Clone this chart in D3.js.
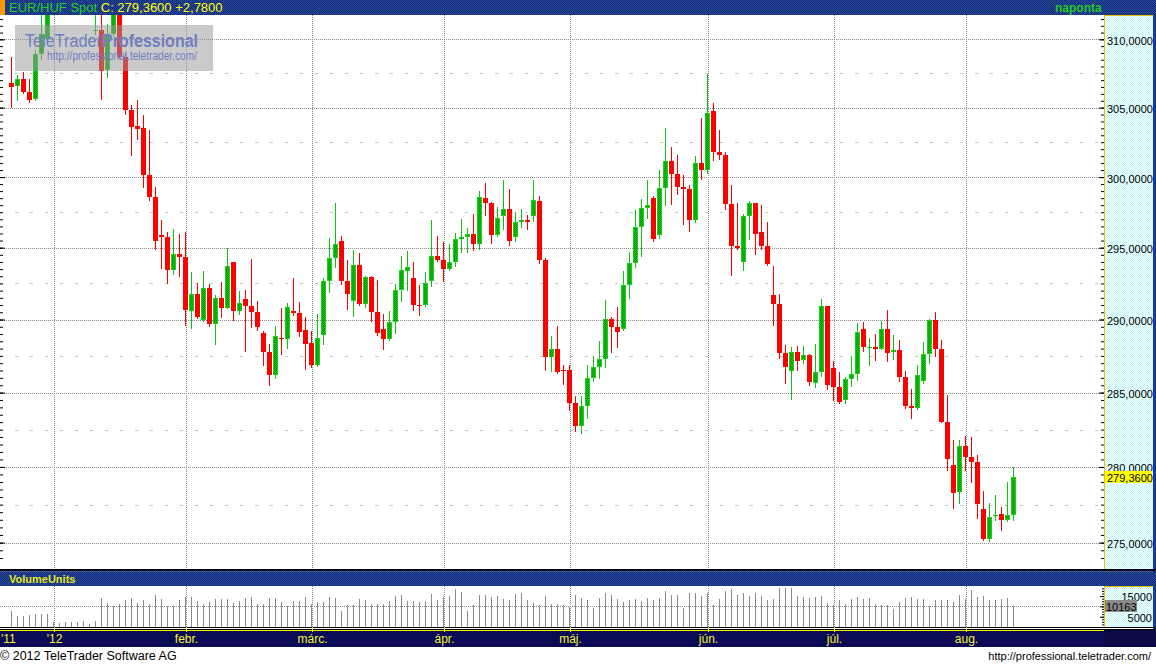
<!DOCTYPE html>
<html><head><meta charset="utf-8">
<script src="https://cdn.jsdelivr.net/npm/d3@7"></script>
<style>
html,body{margin:0;padding:0;background:#fff;overflow:hidden}
svg{display:block}
text{font-family:"Liberation Sans",Arial,sans-serif}
</style>
</head><body>
<svg id="c" width="1156" height="664"></svg>
<script>
// ---------- DATA ----------
const startDate = "2011-12-22", endDate = "2012-08-13";
const open = [
306.82,306.60,307.08,306.14,305.60,308.94,310.04,313.5,315.2,313.4,318.0,319.8,
317.9,315.8,310.61,310.67,307.72,310.41,313.0,308.70,304.83,303.69,303.53,300.15,
298.60,295.89,295.75,293.44,294.56,294.35,290.61,291.77,289.97,292.19,289.69,291.49,
290.82,294.00,290.61,291.42,290.96,290.52,289.07,287.77,286.20,288.73,288.66,290.61,
290.45,289.28,288.39,286.88,288.94,292.68,294.28,295.47,292.68,291.29,293.79,291.08,
292.95,290.52,289.35,288.66,289.83,292.05,293.37,292.88,291.03,291.01,292.70,294.42,
294.14,293.51,294.00,295.61,295.75,295.97,295.26,298.51,298.16,295.89,297.23,297.73,
295.75,296.81,296.95,297.23,298.30,294.14,287.43,287.97,286.54,286.54,284.30,282.74,
284.09,286.00,286.74,287.29,290.03,289.48,289.35,292.40,293.93,296.46,297.80,298.51,
295.89,299.22,301.15,300.22,299.30,299.15,296.95,301.01,300.51,304.75,301.80,301.58,
298.08,295.12,294.00,297.23,298.16,296.11,295.12,291.70,291.08,287.70,286.47,287.77,
287.22,287.56,285.65,286.40,290.94,286.68,285.38,284.50,285.93,286.27,289.35,288.04,
288.11,287.97,289.35,287.77,287.91,286.06,284.09,283.96,285.79,287.63,289.97,287.97,
283.01,280.13,278.34,281.40,280.67,280.33,277.22,275.24,276.76,276.89,276.49,276.82];
const high = [
308.72,307.38,307.62,307.08,309.21,312.5,314.2,316.0,316.5,318.6,324.0,321.5,
318.5,316.4,312.3,312.4,311.15,313.4,313.6,308.99,305.19,305.55,304.46,303.38,
299.32,296.95,296.13,296.32,295.99,296.13,293.30,292.51,293.39,292.47,291.70,292.63,
294.98,294.02,291.98,292.05,294.21,291.29,289.21,288.32,289.55,290.82,291.15,292.91,
291.22,290.17,289.21,290.40,292.91,295.70,298.18,295.85,294.16,294.86,294.63,293.02,
293.02,292.74,290.38,290.59,292.47,294.42,294.77,294.00,292.40,293.30,296.95,295.82,
295.40,295.26,296.04,297.02,296.39,297.37,299.01,299.58,298.23,297.87,299.79,299.15,
297.51,297.73,297.30,299.79,298.65,294.28,288.87,289.55,286.88,286.88,284.77,284.77,
286.88,287.49,288.52,291.35,290.17,290.87,293.37,294.70,297.66,298.44,299.79,298.65,
300.51,303.53,302.16,301.58,300.15,299.44,301.51,304.25,307.45,305.33,303.38,301.80,
299.44,298.16,297.37,298.30,298.17,298.01,296.81,293.72,291.77,288.25,288.11,288.18,
288.18,287.63,288.32,291.42,290.95,287.15,286.40,286.06,287.49,289.76,289.83,288.73,
289.00,289.90,290.66,288.94,288.59,286.47,285.25,286.88,288.46,290.03,290.52,288.59,
284.84,281.81,281.81,282.07,282.01,280.80,278.41,277.61,278.14,277.35,279.01,280.00];
const low = [
305.07,305.55,306.09,305.41,305.52,308.57,309.9,312.6,312.4,313.0,317.2,316.8,
314.6,312.0,310.41,305.65,307.23,310.32,308.63,304.56,301.58,302.73,299.32,298.37,
294.91,293.56,292.56,293.16,293.02,289.62,289.44,290.08,289.90,289.55,288.32,290.17,
290.80,289.97,290.38,287.86,289.51,289.28,286.88,285.52,286.02,287.63,288.04,290.31,
288.87,286.61,286.74,286.81,288.32,291.91,293.65,292.47,290.73,290.24,291.01,290.87,
289.90,288.94,287.97,288.59,289.07,291.29,292.05,290.66,290.31,290.94,292.33,294.07,
292.70,293.44,293.72,294.70,294.70,294.84,294.91,297.30,295.33,295.82,296.32,295.19,
295.47,296.46,296.32,296.88,293.93,286.54,286.47,286.34,285.59,283.82,282.41,282.27,
283.28,285.79,286.00,286.74,287.77,288.11,289.28,291.49,293.65,294.42,297.09,295.47,
295.68,298.01,298.08,298.80,296.67,296.18,296.81,299.86,300.29,301.23,301.30,297.73,
293.09,294.91,293.44,295.61,294.56,294.91,293.79,289.62,287.36,285.65,284.57,286.54,
287.02,285.52,285.38,286.13,285.25,284.50,284.30,284.30,285.45,285.86,287.84,286.88,
287.22,287.96,287.15,287.29,285.79,283.96,283.28,283.89,285.65,287.02,287.49,283.00,
279.80,277.28,277.61,279.80,279.01,276.62,275.18,275.11,276.49,275.84,276.43,276.49];
const close = [
306.52,307.06,306.14,305.55,308.94,310.36,313.5,315.2,313.4,318.0,319.8,317.9,
315.8,312.4,310.69,307.67,310.41,312.8,308.70,304.85,303.62,303.45,300.15,298.60,
295.47,295.77,293.44,294.56,294.35,290.66,291.77,290.20,292.19,289.69,291.49,290.82,
293.72,290.61,291.15,290.96,290.54,289.51,287.79,286.20,288.87,288.66,290.87,290.45,
289.14,288.32,286.88,288.73,292.68,294.28,295.26,292.68,291.77,293.79,291.08,292.95,
290.52,289.07,288.66,289.83,292.05,293.44,293.65,291.01,290.94,292.53,294.42,294.14,
293.51,294.00,295.61,295.75,295.97,295.26,298.58,298.16,295.89,297.09,297.73,295.47,
296.81,296.95,296.81,298.37,294.14,287.43,287.97,286.40,286.47,284.30,282.74,284.09,
286.00,286.74,287.29,290.03,289.48,289.14,292.40,293.93,296.46,297.80,298.01,295.61,
299.22,301.15,300.22,299.30,299.15,296.95,301.01,300.51,304.61,301.80,301.58,298.08,
295.12,294.98,297.23,298.16,295.97,295.12,293.86,291.08,287.70,286.74,287.77,287.15,
287.56,285.72,286.40,290.94,285.52,285.38,284.36,285.93,286.27,289.14,288.11,288.11,
287.97,289.35,287.70,287.91,286.06,284.09,283.96,286.20,287.63,289.97,287.97,283.01,
280.54,278.28,281.40,280.67,280.33,277.55,275.24,276.69,276.82,276.49,276.82,279.36];
const volume = [
7900,5500,5500,5800,6300,6300,6300,2300,1800,2600,2600,2600,
2900,1600,2900,14200,11800,10300,11300,13000,14100,11800,13300,11300,
15500,13700,10200,10200,13300,14600,14400,12800,11300,12300,13600,13400,
13400,11800,12600,13900,14700,11300,11200,13900,14100,12300,10000,12600,
12800,14400,11300,12300,12300,14600,13900,7900,10700,10700,13600,13300,
11000,11000,11300,12800,15200,15500,12600,12600,12100,12600,16000,13100,
14600,15000,18400,17100,7800,10500,15500,15500,14600,15000,13600,13100,
16000,16500,13100,11600,10500,15000,11200,11200,10700,9700,15500,14100,
13300,9400,14100,16500,15500,13700,12300,13300,13700,12600,14200,13300,
14100,17600,15500,15500,9400,16500,16500,15000,16500,10700,13600,17500,
18400,15500,16500,15000,16500,15000,13300,13700,18800,18900,18900,15000,
14600,14100,14600,15000,11600,10700,13100,11200,13600,14600,13600,14100,
11200,10700,10700,8700,12100,14100,14600,13600,13600,10200,13100,13100,
13100,12300,15400,13600,18000,14700,15000,13100,13100,13700,14100,10163];
const priceMajorTicks = [275,280,285,290,295,300,305,310];
const priceMidTicks = [277.5,282.5,287.5,292.5,297.5,302.5,307.5];
const volumeLabelTicks = [5000,15000];
const monthLabels = ["'12","febr.","márc.","ápr.","máj.","jún.","júl.","aug."]; // Jan..Aug 2012
const firstYearLabel = "'11";
const instrument = "EUR/HUF Spot";
const lastClose = 279.36, lastChange = 2.78, lastVolume = 10163;
const periodLabel = "naponta";
const volumeTitle = "VolumeUnits";

// ---------- SETUP ----------
const svg = d3.select("#c");
const defs = svg.append("defs");
function checker(id,a,b){
  const p = defs.append("pattern").attr("id",id).attr("width",2).attr("height",2).attr("patternUnits","userSpaceOnUse");
  p.append("rect").attr("width",2).attr("height",2).attr("fill",a);
  p.append("rect").attr("width",1).attr("height",1).attr("fill",b);
  p.append("rect").attr("x",1).attr("y",1).attr("width",1).attr("height",1).attr("fill",b);
}
checker("hdr","#2a4b9e","#0f2a72");
checker("cyan","#f2ffff","#c6f5f5");
checker("gbody","#14c414","#009600");
defs.append("clipPath").attr("id","clipMain").append("rect").attr("x",0).attr("y",15).attr("width",1104).attr("height",554);

const PL=0, PR=1104, PT=15, PB=569, VT=586, VB=627;
const n = close.length;
const dates = d3.utcDay.range(new Date(startDate+"T00:00:00Z"), d3.utcDay.offset(new Date(endDate+"T00:00:00Z"),1))
  .filter(d=>d.getUTCDay()!==0 && d.getUTCDay()!==6);
const x = d3.scaleBand().domain(d3.range(n)).range([8.5, 8.5+6*n]).paddingInner(1/6).paddingOuter(1/12);
const y = d3.scaleLog().domain([273.28, 311.8]).range([PB, PT]);
const v = d3.scaleLinear().domain([0,20000]).range([VB, 585.8]);
const fmtP = d => d3.format(".4f")(d).replace(".",",");

// backgrounds
svg.append("rect").attr("x",0).attr("y",0).attr("width",1156).attr("height",664).attr("fill","#fff");
svg.append("rect").attr("x",PL).attr("y",PT).attr("width",PR-PL).attr("height",PB-PT).attr("fill","#fff");
svg.append("rect").attr("x",PR).attr("y",PT).attr("width",49).attr("height",PB-PT).attr("fill","url(#cyan)");
svg.append("rect").attr("x",PR).attr("y",VT).attr("width",49).attr("height",VB-VT).attr("fill","url(#cyan)");

// month starts
const monthStarts = [];
dates.forEach((d,i)=>{ if(i>0 && d.getUTCMonth()!==dates[i-1].getUTCMonth()) monthStarts.push(i); });
const gx = i => x(i)+3.5;

// grid
const grid = svg.append("g");
priceMidTicks.forEach(p=>{
  const yy = Math.round(y(p))+0.5;
  grid.append("line").attr("x1",PL).attr("x2",PR).attr("y1",yy).attr("y2",yy)
    .attr("stroke","#c4c4c4").attr("stroke-dasharray","3,12");
});
priceMajorTicks.forEach(p=>{
  const yy = Math.round(y(p))+0.5;
  grid.append("line").attr("x1",PL).attr("x2",PR).attr("y1",yy).attr("y2",yy)
    .attr("stroke","#8a8a8a").attr("stroke-dasharray","1,1");
});
monthStarts.forEach(i=>{
  grid.append("line").attr("x1",gx(i)).attr("x2",gx(i)).attr("y1",PT).attr("y2",PB)
    .attr("stroke","#8a8a8a").attr("stroke-dasharray","1,1");
  grid.append("line").attr("x1",gx(i)).attr("x2",gx(i)).attr("y1",VT).attr("y2",VB)
    .attr("stroke","#8a8a8a").attr("stroke-dasharray","1,1");
});
{
  const yy = Math.round(v(10000))+0.5;
  grid.append("line").attr("x1",PL).attr("x2",PR).attr("y1",yy).attr("y2",yy)
    .attr("stroke","#8a8a8a").attr("stroke-dasharray","1,1");
}

// candles
const cg = svg.append("g").attr("clip-path","url(#clipMain)");
d3.range(n).forEach(i=>{
  const o=open[i], c=close[i], up = c>=o;
  const col = up ? "#12c012" : "#ff0000";
  const xc = x(i)+2.5;
  cg.append("line").attr("x1",xc).attr("x2",xc)
    .attr("y1",Math.round(y(high[i]))).attr("y2",Math.round(y(low[i]))+1)
    .attr("stroke",col).attr("stroke-width",1);
  const top = Math.round(y(Math.max(o,c))), bot = Math.round(y(Math.min(o,c)));
  const h = Math.max(1,bot-top);
  if(up && h>=3){
    cg.append("rect").attr("x",x(i)).attr("y",top).attr("width",x.bandwidth()).attr("height",h).attr("fill","url(#gbody)");
    cg.append("rect").attr("x",x(i)+0.5).attr("y",top+0.5).attr("width",x.bandwidth()-1).attr("height",h-1)
      .attr("fill","none").attr("stroke","#18d018");
  } else {
    cg.append("rect").attr("x",x(i)).attr("y",top).attr("width",x.bandwidth()).attr("height",h).attr("fill",up?"#12c012":"#ff0000");
  }
});

// volume bars
const vg = svg.append("g");
d3.range(n).forEach(i=>{
  const xc = x(i)+2.5;
  vg.append("line").attr("x1",xc).attr("x2",xc).attr("y1",Math.round(v(volume[i]))).attr("y2",VB)
    .attr("stroke","#8a8a8a");
});

// watermark
const wm = svg.append("g");
wm.append("rect").attr("x",15).attr("y",25).attr("width",198).attr("height",46).attr("fill","#9a9a9a").attr("opacity",0.52);
wm.append("text").attr("x",25).attr("y",47).attr("font-size",18).attr("fill","#6f7fc0")
  .attr("textLength",77).attr("lengthAdjust","spacingAndGlyphs").text("TeleTrader");
wm.append("text").attr("x",102).attr("y",47).attr("font-size",18).attr("font-weight","bold").attr("fill","#6f7fc0")
  .attr("textLength",96).attr("lengthAdjust","spacingAndGlyphs").text("Professional");
wm.append("text").attr("x",47).attr("y",60).attr("font-size",12).attr("fill","#6f7fc0")
  .attr("textLength",150).attr("lengthAdjust","spacingAndGlyphs").text("http://professional.teletrader.com/");

// axes: price
const minorP = d3.range(274, 311.6, 0.5);
svg.append("g").attr("transform",`translate(${PR},0)`)
  .call(d3.axisLeft(y).tickValues(minorP).tickSize(3).tickFormat(""))
  .call(g=>{g.select(".domain").remove(); g.selectAll("line").attr("stroke","#000");});
svg.append("g").attr("transform",`translate(${PR},0)`)
  .call(d3.axisLeft(y).tickValues(priceMajorTicks).tickSize(5).tickFormat(""))
  .call(g=>{g.select(".domain").remove(); g.selectAll("line").attr("stroke","#000");});
svg.append("g").attr("transform",`translate(${PL},0)`)
  .call(d3.axisRight(y).tickValues(minorP).tickSize(3).tickFormat(""))
  .call(g=>{g.select(".domain").remove(); g.selectAll("line").attr("stroke","#000");});
svg.append("g").attr("transform",`translate(${PL},0)`)
  .call(d3.axisRight(y).tickValues(priceMajorTicks).tickSize(5).tickFormat(""))
  .call(g=>{g.select(".domain").remove(); g.selectAll("line").attr("stroke","#000");});
svg.append("g").attr("transform",`translate(${PR},0)`)
  .call(d3.axisRight(y).tickValues(priceMajorTicks).tickSize(0).tickPadding(3).tickFormat(fmtP))
  .call(g=>{g.select(".domain").remove();
    g.selectAll("text").attr("font-size",11).attr("fill","#000").attr("dy","0.45em")
     .attr("font-family","'Liberation Sans',Arial,sans-serif");});
// current price box
{
  const yy = y(lastClose);
  svg.append("rect").attr("x",1105).attr("y",Math.round(yy)-6).attr("width",47).attr("height",12).attr("fill","#ffff00");
  svg.append("text").attr("x",1107).attr("y",Math.round(yy)+4.5).attr("font-size",11).attr("fill","#000").text(fmtP(lastClose));
}
// axis panel lines
svg.append("line").attr("x1",PR+0.5).attr("x2",PR+0.5).attr("y1",PT).attr("y2",PB).attr("stroke","#e8c000");
svg.append("line").attr("x1",PR).attr("x2",1153).attr("y1",PT+0.5).attr("y2",PT+0.5).attr("stroke","#e8c000");
svg.append("line").attr("x1",PR+0.5).attr("x2",PR+0.5).attr("y1",VT).attr("y2",VB).attr("stroke","#e8c000");
svg.append("line").attr("x1",PR).attr("x2",1153).attr("y1",VT+0.5).attr("y2",VT+0.5).attr("stroke","#e8c000");

// volume axis
svg.append("g").attr("transform",`translate(${PR},0)`)
  .call(d3.axisLeft(v).tickValues(d3.range(1250,20000,1250)).tickSize(2).tickFormat(""))
  .call(g=>{g.select(".domain").remove(); g.selectAll("line").attr("stroke","#000");});
svg.append("g").attr("transform",`translate(${PR},0)`)
  .call(d3.axisLeft(v).tickValues([5000,10000,15000]).tickSize(4).tickFormat(""))
  .call(g=>{g.select(".domain").remove(); g.selectAll("line").attr("stroke","#000");});
volumeLabelTicks.forEach(t=>{
  svg.append("text").attr("x",1152).attr("y",Math.round(v(t))+4.5).attr("text-anchor","end")
    .attr("font-size",11).attr("fill","#000").text(t);
});
{
  const yy = Math.round(v(lastVolume));
  svg.append("rect").attr("x",1105).attr("y",yy-6).attr("width",32).attr("height",12).attr("fill","#8a8a8a");
  svg.append("text").attr("x",1106).attr("y",yy+4.5).attr("font-size",11).attr("fill","#000").text(lastVolume);
}

// right border
svg.append("rect").attr("x",1153).attr("y",PT).attr("width",3).attr("height",VB-PT+3).attr("fill","#1a36a0");

// separator and volume header
svg.append("rect").attr("x",0).attr("y",PB).attr("width",1156).attr("height",2.5).attr("fill","#000018");
svg.append("rect").attr("x",0).attr("y",571.5).attr("width",1156).attr("height",14.5).attr("fill","url(#hdr)");
svg.append("text").attr("x",9).attr("y",582.5).attr("font-size",11).attr("font-weight","bold").attr("fill","#e6e620").text(volumeTitle);

// bottom lines and time axis bar
svg.append("rect").attr("x",0).attr("y",627).attr("width",1156).attr("height",1).attr("fill","#000");
svg.append("rect").attr("x",0).attr("y",628).attr("width",1104).attr("height",1).attr("fill","#fff");
svg.append("rect").attr("x",0).attr("y",629).attr("width",1156).attr("height",1).attr("fill","#000");
svg.append("rect").attr("x",0).attr("y",630).attr("width",1104).attr("height",1).attr("fill","#f0f000");
svg.append("rect").attr("x",0).attr("y",631).attr("width",1156).attr("height",16).attr("fill","#0a0a55");
svg.append("rect").attr("x",1104).attr("y",630).attr("width",52).attr("height",17).attr("fill","#0a0a46");
monthStarts.forEach((i,k)=>{
  svg.append("line").attr("x1",gx(i)).attr("x2",gx(i)).attr("y1",627).attr("y2",632).attr("stroke","#f0f000");
  svg.append("text").attr("x",gx(i)).attr("y",642.5).attr("text-anchor","middle").attr("font-size",12)
    .attr("fill","#f4f430").text(monthLabels[dates[i].getUTCMonth()]);
});
svg.append("text").attr("x",1).attr("y",642.5).attr("font-size",12).attr("fill","#f4f430").text(firstYearLabel);

// footer
svg.append("text").attr("x",0).attr("y",659.5).attr("font-size",12.5).attr("fill","#000").text("© 2012 TeleTrader Software AG");
svg.append("text").attr("x",1151).attr("y",659.5).attr("font-size",11).attr("fill","#000").attr("text-anchor","end")
  .text("http://professional.teletrader.com/");

// top header
svg.append("rect").attr("x",0).attr("y",0).attr("width",1156).attr("height",15).attr("fill","url(#hdr)");
svg.append("rect").attr("x",0).attr("y",0).attr("width",5).attr("height",15).attr("fill","#ff9a00");
const ht = svg.append("text").attr("x",9).attr("y",12).attr("font-size",13);
ht.append("tspan").attr("fill","#22d022").text(instrument + " ");
ht.append("tspan").attr("fill","#ffff00").text("C: " + fmtP(lastClose) + " +" + fmtP(lastChange));
svg.append("text").attr("x",1055).attr("y",12).attr("font-size",12).attr("font-weight","bold").attr("fill","#22c822").text(periodLabel);
</script>
</body></html>
